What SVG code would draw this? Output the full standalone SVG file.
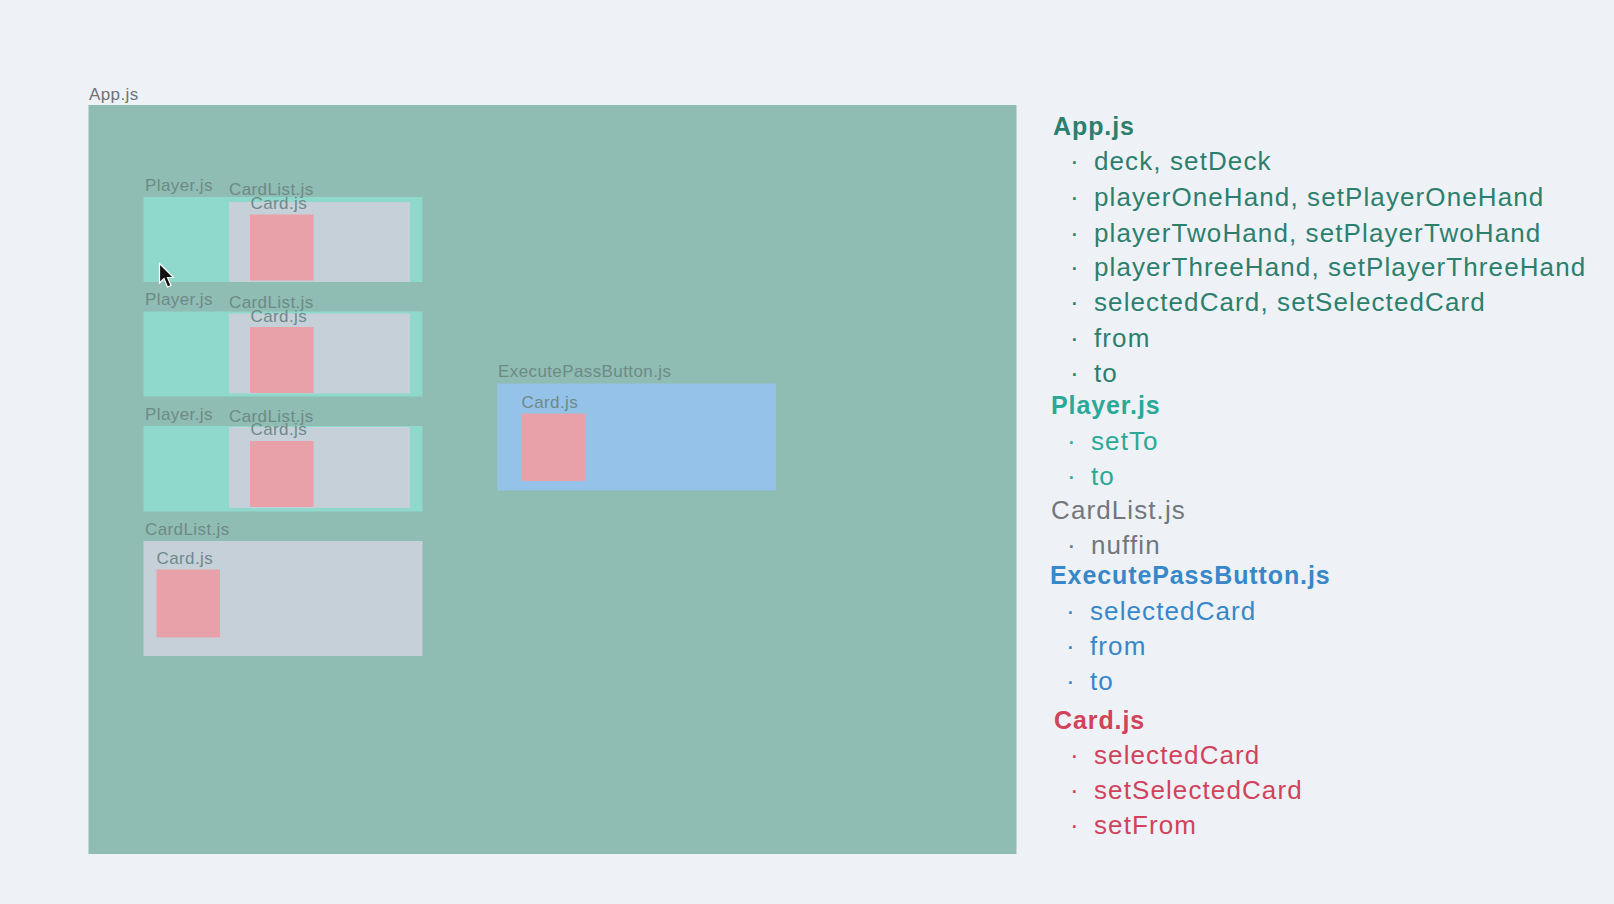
<svg xmlns="http://www.w3.org/2000/svg" width="1614" height="904" viewBox="0 0 1614 904">
<style>
.lbl{font-family:"Liberation Sans",Arial,sans-serif;font-size:17px;letter-spacing:0.4px;fill:#6e8a87}
.card{fill:#e8a1a9}
.plr{fill:#8fd8cc}
.cl{fill:#c6d0d9}
.t{font-family:"Liberation Sans",Arial,sans-serif;font-size:26px;letter-spacing:1.1px}
.h{font-family:"Liberation Sans",Arial,sans-serif;font-size:25px;font-weight:bold;letter-spacing:0.9px}
.g1{fill:#2d7f6d}
.g2{fill:#2aa997}
.g3{fill:#72777c}
.g4{fill:#3787c9}
.g5{fill:#d2435b}
</style>
<rect x="0" y="0" width="1614" height="904" fill="#eef2f7"/>
<g id="app">
<text class="lbl" x="89" y="100" style="fill:#6f7378">App.js</text>
<rect x="88.5" y="105" width="928" height="749" fill="#8fbcb3"/>
</g>
<g id="player1">
<text class="lbl" x="145" y="190.5">Player.js</text>
<rect class="plr" x="143.5" y="197" width="279" height="85"/>
<g id="cardlist1">
<rect class="cl" x="229" y="202" width="181" height="80"/>
<text class="lbl" x="229" y="195">CardList.js</text>
<g id="card1"><rect class="card" x="250" y="214.5" width="63.5" height="66"/><text class="lbl" x="250.5" y="208.5">Card.js</text></g>
</g>
</g>
<g id="player2">
<text class="lbl" x="145" y="305">Player.js</text>
<rect class="plr" x="143.5" y="311.5" width="279" height="85"/>
<g id="cardlist2">
<rect class="cl" x="229" y="313.5" width="181" height="80"/>
<text class="lbl" x="229" y="307.5">CardList.js</text>
<g id="card2"><rect class="card" x="250" y="327" width="63.5" height="66"/><text class="lbl" x="250.5" y="321.5">Card.js</text></g>
</g>
</g>
<g id="player3">
<text class="lbl" x="145" y="419.5">Player.js</text>
<rect class="plr" x="143.5" y="426" width="279" height="85.5"/>
<g id="cardlist3">
<rect class="cl" x="229" y="427" width="181" height="81"/>
<text class="lbl" x="229" y="421.5">CardList.js</text>
<g id="card3"><rect class="card" x="250" y="441" width="63.5" height="66"/><text class="lbl" x="250.5" y="435">Card.js</text></g>
</g>
</g>
<g id="cardlist4">
<text class="lbl" x="145" y="535">CardList.js</text>
<rect class="cl" x="143.5" y="541" width="279" height="115"/>
<g id="card4"><text class="lbl" x="156.5" y="563.5">Card.js</text><rect class="card" x="156.5" y="569.5" width="63.5" height="68"/></g>
</g>
<g id="executepass">
<text class="lbl" x="498" y="376.5">ExecutePassButton.js</text>
<rect x="497.5" y="383.5" width="278.5" height="107" fill="#94c2e9"/>
<g id="card5"><text class="lbl" x="521.5" y="407.5">Card.js</text><rect class="card" x="521.5" y="413.5" width="64" height="67.5"/></g>
</g>
<g id="cursor">
<path d="M159.5 263.5 L159.5 283 L164 278.5 L167.5 287 L171 285.5 L167.5 277.5 L173.5 277.5 Z" fill="#111" stroke="#fff" stroke-width="1.2"/>
</g>
<g id="legend">
<text class="h g1" x="1053" y="135">App.js</text>
<g class="t g1">
<text x="1070" y="170">·</text><text x="1094" y="170">deck, setDeck</text>
<text x="1070" y="206">·</text><text x="1094" y="206">playerOneHand, setPlayerOneHand</text>
<text x="1070" y="241.5">·</text><text x="1094" y="241.5">playerTwoHand, setPlayerTwoHand</text>
<text x="1070" y="276">·</text><text x="1094" y="276">playerThreeHand, setPlayerThreeHand</text>
<text x="1070" y="311">·</text><text x="1094" y="311">selectedCard, setSelectedCard</text>
<text x="1070" y="346.5">·</text><text x="1094" y="346.5">from</text>
<text x="1070" y="381.5">·</text><text x="1094" y="381.5">to</text>
</g>
<text class="h g2" x="1051" y="414">Player.js</text>
<g class="t g2">
<text x="1067" y="450">·</text><text x="1091" y="450">setTo</text>
<text x="1067" y="485">·</text><text x="1091" y="485">to</text>
</g>
<text class="t g3" x="1051" y="518.5">CardList.js</text>
<g class="t g3">
<text x="1067" y="553.5">·</text><text x="1091" y="553.5">nuffin</text>
</g>
<text class="h g4" x="1050" y="584">ExecutePassButton.js</text>
<g class="t g4">
<text x="1066" y="619.5">·</text><text x="1090" y="619.5">selectedCard</text>
<text x="1066" y="655">·</text><text x="1090" y="655">from</text>
<text x="1066" y="690">·</text><text x="1090" y="690">to</text>
</g>
<text class="h g5" x="1054" y="728.5">Card.js</text>
<g class="t g5">
<text x="1070" y="763.5">·</text><text x="1094" y="763.5">selectedCard</text>
<text x="1070" y="798.5">·</text><text x="1094" y="798.5">setSelectedCard</text>
<text x="1070" y="833.5">·</text><text x="1094" y="833.5">setFrom</text>
</g>
</g>
<g id="connectors"></g>
</svg>
